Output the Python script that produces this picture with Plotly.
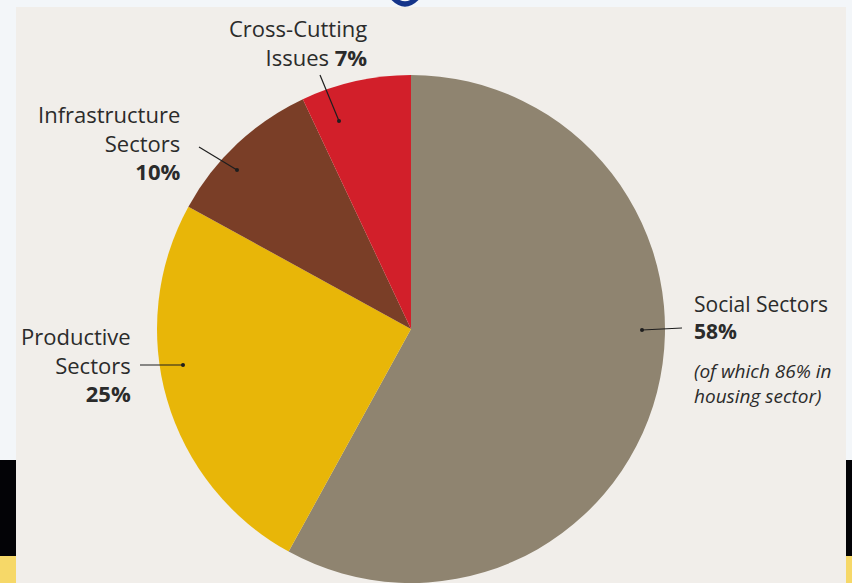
import plotly.graph_objects as go

W, H = 852, 583

# ---- data ----
labels = ["Social Sectors", "Productive Sectors", "Infrastructure Sectors", "Cross-Cutting Issues"]
values = [58, 25, 10, 7]
colors = ["#8f8470", "#e8b608", "#7a3e27", "#d21f2a"]
social_note = ["(of which 86% in", "housing sector)"]

fig = go.Figure()

# pie centred at (411, 329) px, radius ~255 px
cx, cy, r = 411, 329, 255
fig.add_trace(go.Pie(
    labels=labels, values=values, sort=False, direction="clockwise", rotation=0,
    marker=dict(colors=colors, line=dict(width=0)),
    textinfo="none", hoverinfo="label+percent", showlegend=False,
    domain=dict(x=[(cx - r) / W, (cx + r) / W], y=[0, 1 - (cy - r + 1) / H]),
))

FONT = "Open Sans"
TXT = "#2b2b2b"
FS = 22

shapes = []
# outer slide decoration
shapes.append(dict(type="rect", xref="x", yref="y", x0=0, x1=W, y0=460, y1=556,
                   fillcolor="#030306", line=dict(width=0), layer="below"))
shapes.append(dict(type="rect", xref="x", yref="y", x0=0, x1=W, y0=556, y1=H,
                   fillcolor="#f6d868", line=dict(width=0), layer="below"))
shapes.append(dict(type="path", xref="x", yref="y", path="M 393,-2 Q 405,10 417,-2",
                   line=dict(color="#14348a", width=5), layer="below"))
# beige panel
shapes.append(dict(type="rect", xref="x", yref="y", x0=16, x1=846, y0=7, y1=H + 2,
                   fillcolor="#f1eeea", line=dict(width=0), layer="below"))

# leader lines (start, end with dot)
leaders = [
    ((320, 75), (339, 121)),   # cross-cutting
    ((199, 147), (237, 170)),  # infrastructure
    ((140, 365), (183, 365)),  # productive
    ((682, 328), (642, 330)),  # social
]
for (x0, y0), (x1, y1) in leaders:
    shapes.append(dict(type="line", xref="x", yref="y", x0=x0, y0=y0, x1=x1, y1=y1,
                       line=dict(color="#1e1e1e", width=1.2), layer="above"))
    shapes.append(dict(type="circle", xref="x", yref="y", x0=x1 - 2, x1=x1 + 2, y0=y1 - 2, y1=y1 + 2,
                       fillcolor="#1e1e1e", line=dict(width=0), layer="above"))

ann = []
def txt(x, y, s, anchor, italic=False, size=FS):
    ann.append(dict(x=x, y=y, xref="x", yref="y", text=s, showarrow=False,
                    xanchor=anchor, yanchor="middle", align=anchor,
                    font=dict(family=FONT, size=size, color=TXT,
                              style="italic" if italic else "normal")))

pct = [f"<b>{v}%</b>" for v in values]
txt(369, 42, "Cross-Cutting<br>Issues " + pct[3], "right")
txt(182, 142, "Infrastructure<br>Sectors<br>" + pct[2], "right")
txt(133, 364, "Productive<br>Sectors<br>" + pct[1], "right")
txt(692, 317, "Social Sectors<br>" + pct[0], "left", size=21)
txt(692, 383, "<br>".join(social_note), "left", italic=True, size=19)

fig.update_layout(
    width=W, height=H, margin=dict(l=0, r=0, t=0, b=0),
    paper_bgcolor="#f3f6f9", plot_bgcolor="rgba(0,0,0,0)",
    xaxis=dict(range=[0, W], visible=False, fixedrange=True),
    yaxis=dict(range=[H, 0], visible=False, fixedrange=True),
    shapes=shapes, annotations=ann,
)

fig.write_html("out.html", config={"displayModeBar": False},
               post_script="document.body.style.margin='0';document.body.style.overflow='hidden';")
